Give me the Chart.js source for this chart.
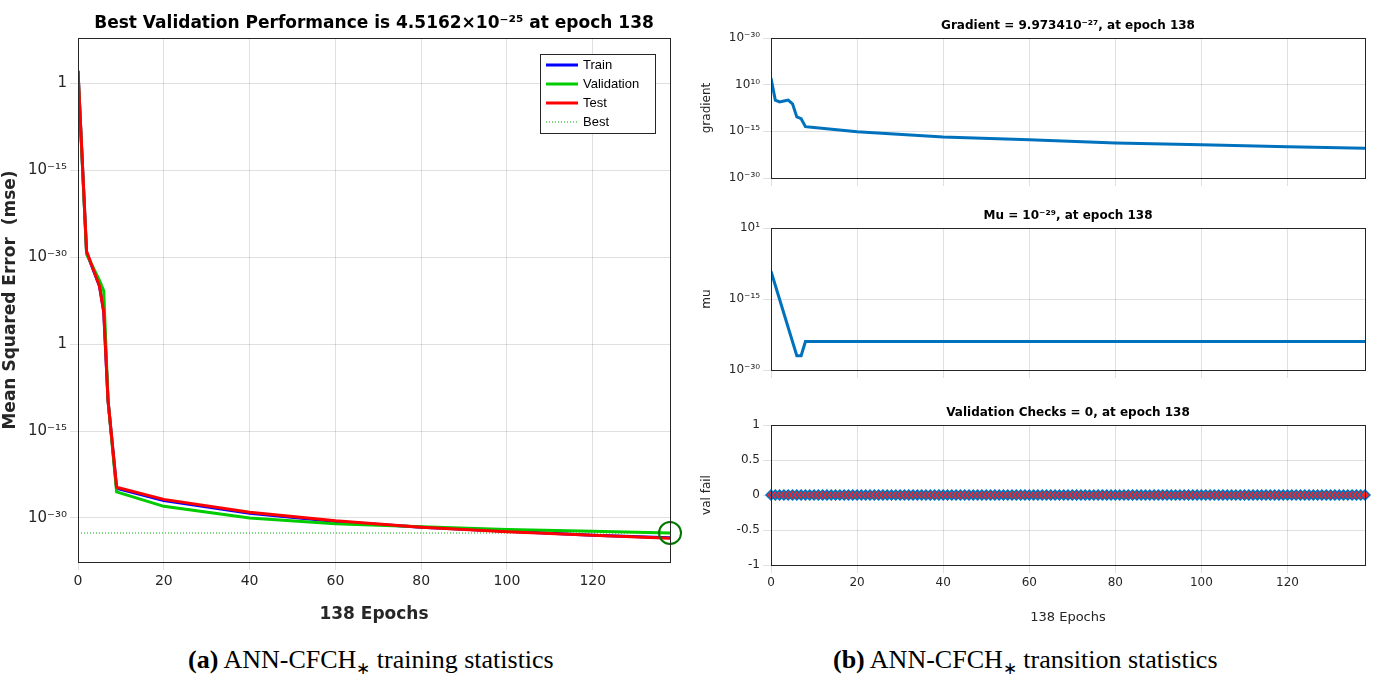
<!DOCTYPE html>
<html>
<head>
<meta charset="utf-8">
<script src="https://cdn.jsdelivr.net/npm/chart.js@4"></script>
<style>
  body { margin: 0; background: #fff; width: 1381px; height: 689px; position: relative; overflow: hidden; }
  canvas { position: absolute; }
  .cap { position: absolute; top: 645px; font-family: "Liberation Serif", serif; font-size: 26px; color: #000; }
</style>
</head>
<body>
<canvas id="perf" style="left:0;top:0;width:690px;height:625px"></canvas>
<canvas id="grad" style="left:700px;top:0;width:690px;height:190px"></canvas>
<canvas id="mu" style="left:700px;top:190px;width:690px;height:192px"></canvas>
<canvas id="vf" style="left:700px;top:382px;width:690px;height:243px"></canvas>
<div class="cap" style="left:188px"><b>(a)</b> ANN-CFCH<sub style="font-size:17px">∗</sub> training statistics</div>
<div class="cap" style="left:833px"><b>(b)</b> ANN-CFCH<sub style="font-size:17px">∗</sub> transition statistics</div>
<script>
// Performance (values are log10 of mse as drawn on the axis)
const perfEpochs = [0, 2, 5, 6, 7, 9, 20, 40, 60, 80, 100, 120, 138];
const trainPerf = [2.1, -29.2, -35, -39.3, -54.7, -69.9, -72.0, -74.2, -75.6, -76.6, -77.3, -78.0, -78.4];
const validPerf = [2.0, -29.5, -34.0, -35.8, -54.7, -70.5, -73.0, -75.0, -76.0, -76.5, -77.0, -77.3, -77.6];
const testPerf = [2.2, -29.0, -35.0, -39.5, -54.7, -69.7, -71.8, -74.0, -75.5, -76.6, -77.4, -78.0, -78.5];
const bestEpoch = 138;
const bestPerf = -77.6;
const perfTickLabels = ['1', '10⁻¹⁵', '10⁻³⁰', '1', '10⁻¹⁵', '10⁻³⁰'];

// Gradient / mu (in axis decade units from the top tick)
const gradEpochs = [0, 1, 2, 3, 4, 5, 6, 7, 8, 10, 20, 40, 60, 80, 100, 120, 138];
const gradValues = [-0.86, -1.33, -1.37, -1.35, -1.33, -1.41, -1.69, -1.73, -1.9, -1.92, -2.01, -2.12, -2.18, -2.25, -2.29, -2.33, -2.36];
const gradTickLabels = ['10⁻³⁰', '10¹⁰', '10⁻¹⁵', '10⁻³⁰'];
const muEpochs = [0, 6, 7, 8, 138];
const muValues = [-0.61, -1.8, -1.8, -1.6, -1.6];
const muTickLabels = ['10¹', '10⁻¹⁵', '10⁻³⁰'];
const vfTickLabels = ['-1', '-0.5', '0', '0.5', '1'];

// Validation checks: 0 at every epoch 0..138
const vfValues = new Array(139).fill(0);

const pts = (xs, ys) => xs.map((x, i) => ({ x: x, y: ys[i] }));
const gridColor = 'rgba(0,0,0,0.12)';
const tickFont = { family: 'DejaVu Sans', size: 12 };

// frame, titles and legend
const textPlugin = {
  id: 'texts',
  afterDraw(chart, args, opts) {
    const c = chart.ctx, a = chart.chartArea;
    c.save();
    c.strokeStyle = '#262626';
    c.lineWidth = 1;
    c.strokeRect(a.left + 0.5, a.top + 0.5, a.right - a.left, a.bottom - a.top);
    if (opts.title) {
      c.fillStyle = '#000';
      c.font = opts.titleFont;
      c.textAlign = 'center';
      c.textBaseline = 'bottom';
      c.fillText(opts.title, (a.left + a.right) / 2, a.top - 6);
    }
    if (opts.legend) {
      const x = a.left + 462, y = a.top + 16, w = 115, h = 79;
      c.fillStyle = '#fff';
      c.fillRect(x, y, w, h);
      c.strokeRect(x + 0.5, y + 0.5, w, h);
      const items = [['Train', '#0000ff', false], ['Validation', '#00cc00', false], ['Test', '#ff0000', false], ['Best', '#00aa00', true]];
      c.font = '13px Liberation Sans';
      c.textAlign = 'left';
      c.textBaseline = 'middle';
      items.forEach((it, i) => {
        const yy = y + 11 + i * 19;
        c.strokeStyle = it[1];
        c.lineWidth = it[2] ? 1 : 3;
        c.setLineDash(it[2] ? [1, 2] : []);
        c.beginPath(); c.moveTo(x + 6, yy); c.lineTo(x + 38, yy); c.stroke();
        c.fillStyle = '#000';
        c.fillText(it[0], x + 43, yy);
      });
    }
    c.restore();
  }
};

function fixArea(left, bottom) {
  return {
    y: s => { s.width = left; },
    x: s => { s.height = bottom; }
  };
}

// Left chart (earlier datasets are drawn on top)
const perfFit = fixArea(78, 63);
new Chart(document.getElementById('perf'), {
  type: 'line',
  data: {
    datasets: [
      { data: [{ x: bestEpoch, y: bestPerf }], borderColor: '#007700', backgroundColor: 'transparent', borderWidth: 2, pointRadius: 11, clip: false, showLine: false },
      { data: pts(perfEpochs, testPerf), borderColor: '#ff0000', borderWidth: 3, pointRadius: 0 },
      { data: pts(perfEpochs, validPerf), borderColor: '#00cc00', borderWidth: 3, pointRadius: 0 },
      { data: pts(perfEpochs, trainPerf), borderColor: '#0000ff', borderWidth: 3, pointRadius: 0 },
      { data: pts([0, 138], [bestPerf, bestPerf]), borderColor: '#00aa00', borderWidth: 1, borderDash: [1, 2], pointRadius: 0 }
    ]
  },
  options: {
    responsive: false, animation: false,
    layout: { padding: { top: 38, right: 20 } },
    plugins: {
      legend: { display: false }, tooltip: { enabled: false },
      texts: { title: 'Best Validation Performance is 4.5162×10⁻²⁵ at epoch 138', titleFont: 'bold 17px DejaVu Sans', legend: true }
    },
    scales: {
      x: {
        type: 'linear', min: 0, max: 138, afterFit: perfFit.x,
        afterBuildTicks: s => { s.ticks = [0, 20, 40, 60, 80, 100, 120].map(v => ({ value: v })); },
        grid: { color: gridColor }, border: { display: false },
        ticks: { font: { family: 'DejaVu Sans', size: 14 }, color: '#262626' },
        title: { display: true, text: '138 Epochs', font: { family: 'DejaVu Sans', size: 17, weight: 'bold' }, color: '#262626', padding: 0 }
      },
      y: {
        type: 'linear', min: -82.6, max: 7.8, afterFit: perfFit.y,
        afterBuildTicks: s => { s.ticks = [0, -15, -30, -45, -60, -75].map(v => ({ value: v })); },
        grid: { color: gridColor }, border: { display: false },
        ticks: { font: { family: 'DejaVu Sans', size: 15 }, color: '#262626', callback: (v, i) => perfTickLabels[i] },
        title: { display: true, text: 'Mean Squared Error  (mse)', font: { family: 'DejaVu Sans', size: 17, weight: 'bold' }, color: '#262626', padding: 0 }
      }
    }
  },
  plugins: [textPlugin]
});

function smallChart(id, datasets, yOpts, xHeight, topPad, title, showX) {
  const fit = fixArea(71, xHeight);
  new Chart(document.getElementById(id), {
    type: 'line',
    data: { datasets: datasets },
    options: {
      responsive: false, animation: false,
      layout: { padding: { top: topPad, right: 25 } },
      plugins: {
        legend: { display: false }, tooltip: { enabled: false },
        texts: { title: title, titleFont: 'bold 12px DejaVu Sans' }
      },
      scales: {
        x: {
          type: 'linear', min: 0, max: 138, afterFit: fit.x,
          afterBuildTicks: s => { s.ticks = [0, 20, 40, 60, 80, 100, 120].map(v => ({ value: v })); },
          grid: { color: gridColor }, border: { display: false },
          ticks: { display: showX, font: tickFont, color: '#262626' },
          title: { display: showX, text: '138 Epochs', font: { family: 'DejaVu Sans', size: 13 }, color: '#262626', padding: { top: -8, bottom: 0 } }
        },
        y: Object.assign({
          type: 'linear', afterFit: fit.y,
          grid: { color: gridColor }, border: { display: false }
        }, yOpts)
      }
    },
    plugins: [textPlugin]
  });
}

smallChart('grad', [
  { data: pts(gradEpochs, gradValues), borderColor: '#0072bd', borderWidth: 3, pointRadius: 0 }
], {
  min: -3, max: 0,
  afterBuildTicks: s => { s.ticks = [0, -1, -2, -3].map(v => ({ value: v })); },
  ticks: { font: tickFont, color: '#262626', callback: (v, i) => gradTickLabels[i] },
  title: { display: true, text: 'gradient', font: tickFont, color: '#262626', padding: 0 }
}, 12, 38, 'Gradient = 9.973410⁻²⁷, at epoch 138', false);

smallChart('mu', [
  { data: pts(muEpochs, muValues), borderColor: '#0072bd', borderWidth: 3, pointRadius: 0 }
], {
  min: -2, max: 0,
  afterBuildTicks: s => { s.ticks = [0, -1, -2].map(v => ({ value: v })); },
  ticks: { font: tickFont, color: '#262626', callback: (v, i) => muTickLabels[i] },
  title: { display: true, text: 'mu', font: tickFont, color: '#262626', padding: 0 }
}, 12, 38, 'Mu = 10⁻²⁹, at epoch 138', false);

smallChart('vf', [
  { data: vfValues.map((v, i) => ({ x: i, y: v })), borderColor: '#0072bd', borderWidth: 2,
    pointStyle: 'rectRot', pointRadius: 5, pointBackgroundColor: '#ff2020', pointBorderColor: '#0072bd', pointBorderWidth: 1.5, clip: false }
], {
  min: -1, max: 1,
  afterBuildTicks: s => { s.ticks = [-1, -0.5, 0, 0.5, 1].map(v => ({ value: v })); },
  ticks: { font: tickFont, color: '#262626', callback: (v, i) => vfTickLabels[i] },
  title: { display: true, text: 'val fail', font: tickFont, color: '#262626', padding: 0 }
}, 60, 43, 'Validation Checks = 0, at epoch 138', true);
</script>
</body>
</html>
